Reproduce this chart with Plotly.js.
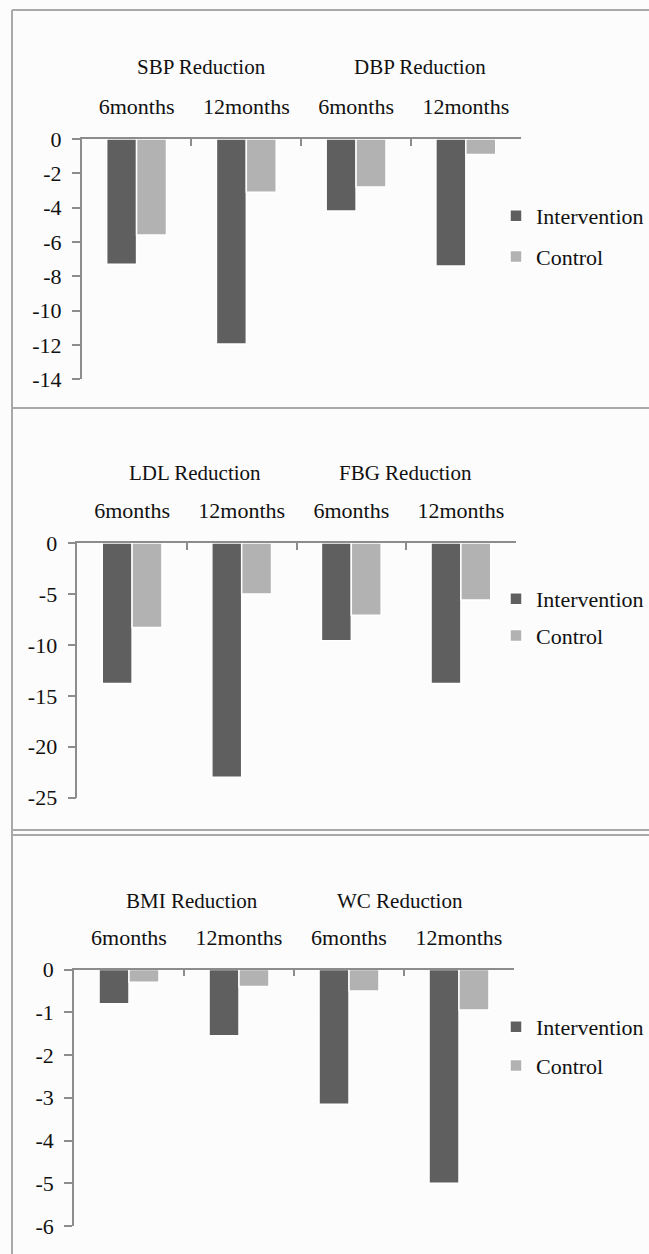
<!DOCTYPE html>
<html>
<head>
<meta charset="utf-8">
<script src="https://cdn.plot.ly/plotly-3.0.1.min.js"></script>
<style>
  html, body { margin: 0; padding: 0; background: #fcfcfc; }
  #chart { width: 649px; height: 1254px; }
</style>
</head>
<body>
<div id="chart"></div>
<script>
// ---- Data ----
const months = ["6months", "12months", "6months", "12months"];
const seriesNames = ["Intervention", "Control"];

const panel1Groups = ["SBP Reduction", "DBP Reduction"];
const panel1Intervention = [-7.3, -11.95, -4.2, -7.4];
const panel1Control = [-5.6, -3.1, -2.8, -0.9];
const panel1YTicks = ["0", "-2", "-4", "-6", "-8", "-10", "-12", "-14"];

const panel2Groups = ["LDL Reduction", "FBG Reduction"];
const panel2Intervention = [-13.8, -23.0, -9.6, -13.8];
const panel2Control = [-8.3, -5.0, -7.1, -5.6];
const panel2YTicks = ["0", "-5", "-10", "-15", "-20", "-25"];

const panel3Groups = ["BMI Reduction", "WC Reduction"];
const panel3Intervention = [-0.8, -1.55, -3.15, -5.0];
const panel3Control = [-0.3, -0.4, -0.5, -0.95];
const panel3YTicks = ["0", "-1", "-2", "-3", "-4", "-5", "-6"];

// ---- Styling ----
const W = 649, H = 1254;
const px = v => v / W;
const py = v => 1 - v / H;
const interventionColor = "#5f5f5f";
const controlColor = "#b2b2b2";
const axisColor = "#8c8c8c";
const borderColor = "#a9a9a9";
const fontFamily = "Liberation Serif";
const textColor = "#111111";

const panels = [
  { groups: panel1Groups, inter: panel1Intervention, ctrl: panel1Control, yticks: panel1YTicks,
    xdom: [81.7, 520.7], ytop: 139, ybot: 379.3, titleY: 66.7, titleShift: [0.09, 0.08],
    legendTop: 195, legendGap: 9 },
  { groups: panel2Groups, inter: panel2Intervention, ctrl: panel2Control, yticks: panel2YTicks,
    xdom: [77.3, 515.7], ytop: 543, ybot: 797.7, titleY: 473.3, titleShift: [0.07, -0.01],
    legendTop: 578, legendGap: 5 },
  { groups: panel3Groups, inter: panel3Intervention, ctrl: panel3Control, yticks: panel3YTicks,
    xdom: [74, 514], ytop: 969.5, ybot: 1226, titleY: 901, titleShift: [0.07, -0.04],
    legendTop: 1006, legendGap: 7 }
];

const data = [];
const layout = {
  width: W, height: H,
  margin: { l: 0, r: 0, t: 0, b: 0, pad: 0 },
  paper_bgcolor: "rgba(0,0,0,0)",
  plot_bgcolor: "rgba(0,0,0,0)",
  barmode: "group",
  bargap: 0.455,
  bargroupgap: 0,
  showlegend: true,
  annotations: [],
  shapes: []
};

panels.forEach((p, i) => {
  const n = i === 0 ? "" : String(i + 1);
  const xa = "x" + n, ya = "y" + n;
  const legendName = "legend" + n;
  const cats = months.map((m, k) => p.groups[Math.floor(k / 2)] + " " + m);

  [p.inter, p.ctrl].forEach((vals, s) => {
    data.push({
      type: "bar",
      name: seriesNames[s],
      x: cats,
      y: vals,
      xaxis: xa,
      yaxis: ya,
      legend: legendName,
      legendgroup: "g" + i + "_" + s,
      marker: { color: s === 0 ? interventionColor : controlColor,
                line: { color: "#ffffff", width: 1.5 } },
      hoverinfo: "x+y+name"
    });
  });

  const ymin = Number(p.yticks[p.yticks.length - 1]);
  layout["xaxis" + n] = {
    domain: [px(p.xdom[0]), px(p.xdom[1])],
    anchor: ya,
    side: "top",
    type: "category",
    range: [-0.5, 3.5],
    tickmode: "array",
    tickvals: cats,
    ticktext: months,
    tickson: "boundaries",
    ticks: "inside",
    ticklen: 7,
    tickwidth: 1.5,
    tickcolor: axisColor,
    showline: true,
    linecolor: axisColor,
    linewidth: 1.5,
    showgrid: false,
    zeroline: false,
    ticklabelstandoff: 14,
    tickfont: { family: fontFamily, size: 22, color: textColor },
    fixedrange: true
  };
  layout["yaxis" + n] = {
    domain: [py(p.ybot), py(p.ytop)],
    anchor: xa,
    range: [ymin, 0],
    tickmode: "array",
    tickvals: p.yticks.map(Number),
    ticktext: p.yticks,
    ticks: "outside",
    ticklen: 8,
    tickwidth: 1.5,
    tickcolor: axisColor,
    showline: true,
    linecolor: axisColor,
    linewidth: 1.5,
    showgrid: false,
    zeroline: false,
    ticklabelstandoff: 6,
    tickfont: { family: fontFamily, size: 22, color: textColor },
    fixedrange: true
  };
  layout[legendName] = {
    x: px(496), xanchor: "left",
    y: py(p.legendTop), yanchor: "top",
    bgcolor: "rgba(0,0,0,0)",
    borderwidth: 0,
    traceorder: "grouped",
    tracegroupgap: p.legendGap,
    font: { family: fontFamily, size: 22, color: textColor }
  };
  p.groups.forEach((g, k) => {
    layout.annotations.push({
      text: g,
      xref: xa, yref: "paper",
      x: 0.5 + 2 * k + p.titleShift[k],
      y: py(p.titleY),
      xanchor: "center", yanchor: "middle",
      showarrow: false,
      font: { family: fontFamily, size: 21, color: textColor }
    });
  });
});

// panel frames (left border + horizontal separators)
const frameLine = { color: borderColor, width: 2 };
layout.shapes.push({ type: "line", xref: "paper", yref: "paper",
  x0: px(12), x1: px(12), y0: py(10), y1: 0, line: frameLine });
[10, 408, 830, 835].forEach(yy => {
  layout.shapes.push({ type: "line", xref: "paper", yref: "paper",
    x0: px(12), x1: 1, y0: py(yy), y1: py(yy), line: frameLine });
});

Plotly.newPlot("chart", data, layout, { displayModeBar: false });
</script>
</body>
</html>
